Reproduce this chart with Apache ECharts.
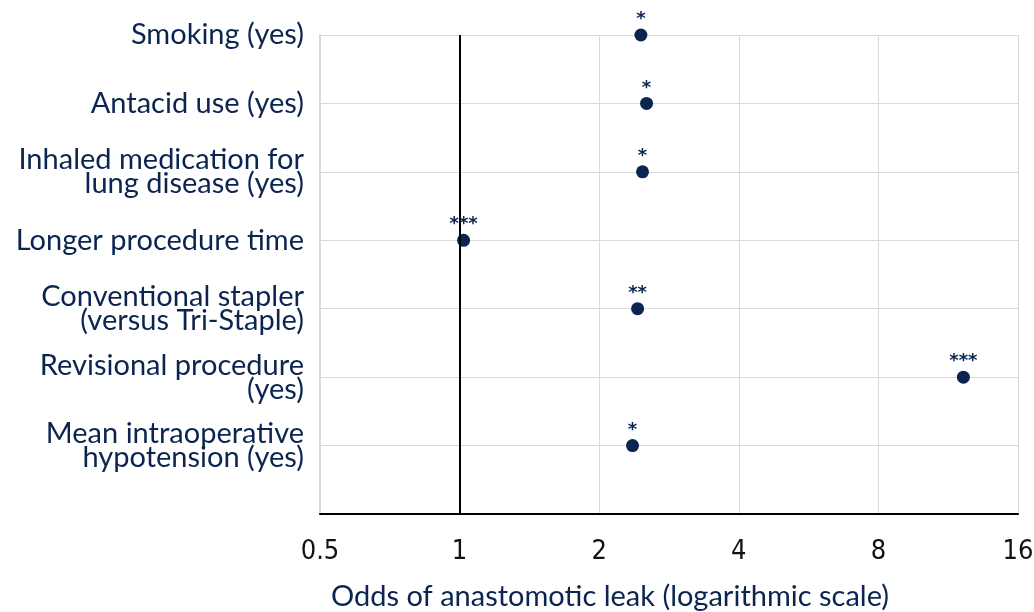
<!DOCTYPE html>
<html>
<head>
<meta charset="utf-8">
<script src="https://cdn.jsdelivr.net/npm/echarts@6/dist/echarts.min.js"></script>
<style>
  html, body { margin: 0; padding: 0; background: #fff; }
  #chart { width: 1034px; height: 612px; }
</style>
</head>
<body>
<div id="chart"></div>
<script>
// factors, top to bottom
const factors = [
  'Smoking (yes)',
  'Antacid use (yes)',
  'Inhaled medication for\nlung disease (yes)',
  'Longer procedure time',
  'Conventional stapler\n(versus Tri-Staple)',
  'Revisional procedure\n(yes)',
  'Mean intraoperative\nhypotension (yes)'
]
const odds = [2.46, 2.53, 2.48, 1.02, 2.42, 12.2, 2.36]
const stars = ['*', '*', '*', '***', '**', '***', '*']
const xTicks = [0.5, 1, 2, 4, 8, 16]
const xTitle = 'Odds of anastomotic leak (logarithmic scale)'

const NAVY = '#0b2550'
const FONT = 'Lato'

const chart = echarts.init(document.getElementById('chart'))

// y position: first factor at top (7), last at 1, 0 = empty bottom row
const points = factors.map((f, i) => ({
  value: [odds[i], factors.length - i],
  label: { formatter: stars[i] }
}))

chart.setOption({
  animation: false,
  grid: { left: 320, right: 16, top: 35, bottom: 98, outerBoundsMode: 'none', containLabel: false },
  graphic: [{
    type: 'text',
    left: 331,
    top: 582,
    style: { text: xTitle, fill: NAVY, font: '29px Lato' }
  }],
  xAxis: {
    type: 'log',
    logBase: 2,
    min: 0.5,
    max: 16,
    axisLine: { lineStyle: { color: '#000', width: 2 } },
    axisTick: { show: false },
    splitLine: { lineStyle: { color: '#d9d9d9', width: 1 } },
    axisLabel: {
      color: '#111', fontSize: 27, fontFamily: '"Liberation Sans Narrow", "DejaVu Sans Condensed", sans-serif',
      margin: 24,
      formatter: v => xTicks.includes(+v) ? String(+v) : ''
    }
  },
  yAxis: {
    type: 'value',
    min: 0,
    max: 7,
    interval: 1,
    axisLine: { show: true, lineStyle: { color: '#d9d9d9', width: 2 } },
    axisTick: { show: false },
    splitLine: { lineStyle: { color: '#d9d9d9', width: 1 } },
    axisLabel: {
      color: NAVY, fontSize: 29, fontFamily: FONT, lineHeight: 24, margin: 16,
      align: 'right',
      formatter: v => v > 0 ? factors[factors.length - v] : ''
    }
  },
  series: [{
    type: 'scatter',
    symbolSize: 13,
    itemStyle: { color: NAVY, opacity: 1 },
    data: points,
    label: {
      show: true, position: 'top', distance: 0,
      color: NAVY, fontSize: 18, fontWeight: 'bold', fontFamily: 'DejaVu Sans'
    },
    markLine: {
      silent: true,
      symbol: 'none',
      label: { show: false },
      lineStyle: { color: '#000', width: 2, type: 'solid' },
      data: [{ xAxis: 1 }]
    }
  }]
})
</script>
</body>
</html>
